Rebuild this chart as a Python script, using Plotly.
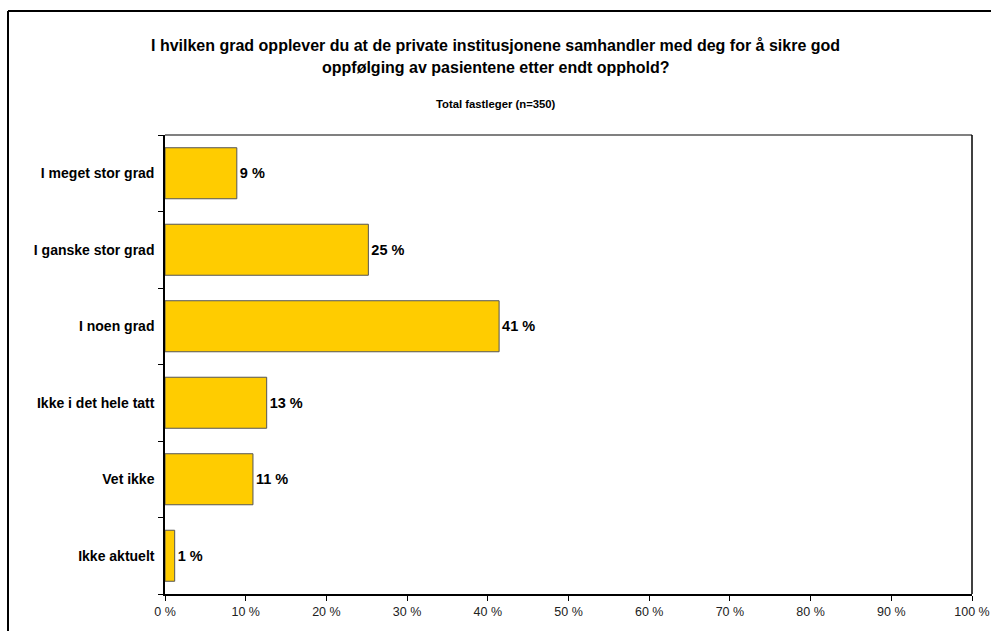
import plotly.graph_objects as go

categories = ["I meget stor grad", "I ganske stor grad", "I noen grad",
              "Ikke i det hele tatt", "Vet ikke", "Ikke aktuelt"]
values = [8.9, 25.2, 41.4, 12.6, 10.9, 1.2]
x_ticks = [0, 10, 20, 30, 40, 50, 60, 70, 80, 90, 100]
x_tick_labels = [f"{t} %" for t in x_ticks]
title_line1 = "I hvilken grad opplever du at de private institusjonene samhandler med deg for å sikre god"
title_line2 = "oppfølging av pasientene etter endt opphold?"
subtitle = "Total fastleger (n=350)"

W, H = 991, 631
L, R, T, B = 165, 19, 135, 37
pw, ph = W - L - R, H - T - B

def px(x):
    return (x - L) / pw

def py(y):
    return (H - B - y) / ph

fig = go.Figure(go.Bar(
    y=categories, x=values, orientation="h",
    marker=dict(color="#FFCC00", line=dict(color="#555555", width=1)),
    width=0.667,
    text=[f"{round(v)} %" for v in values], textposition="outside",
    textfont=dict(family="Liberation Sans, Arial", size=14.5, color="#000000", weight="bold"),
    cliponaxis=False,
))

fig.update_layout(
    width=W, height=H,
    margin=dict(l=L, r=R, t=T, b=B, autoexpand=False),
    paper_bgcolor="white", plot_bgcolor="white",
    showlegend=False,
    font=dict(family="Liberation Sans, Arial", color="#000000"),
    xaxis=dict(range=[0, 100], tickvals=x_ticks, ticktext=x_tick_labels,
               ticks="outside", ticklen=5, tickcolor="#000000", automargin=False,
               showgrid=False, zeroline=False, showline=True,
               linecolor="#000000", linewidth=1.5,
               tickfont=dict(size=12.5, color="#222222")),
    yaxis=dict(categoryorder="array", categoryarray=categories[::-1],
               autorange=False, range=[-0.5, 5.5], automargin=False,
               ticks="outside", ticklen=5, tickcolor="#000000", tickson="boundaries",
               showgrid=False, zeroline=False, showline=True,
               linecolor="#000000", linewidth=1.5, ticklabelstandoff=6,
               tickfont=dict(size=14, color="#000000", weight="bold")),
    annotations=[
        dict(text=f"<b>{title_line1}</b>", x=px(495.5), y=py(45), xref="paper", yref="paper",
             showarrow=False, font=dict(size=16), xanchor="center", yanchor="middle"),
        dict(text=f"<b>{title_line2}</b>", x=px(495.5), y=py(67), xref="paper", yref="paper",
             showarrow=False, font=dict(size=16), xanchor="center", yanchor="middle"),
        dict(text=f"<b>{subtitle}</b>", x=px(495.5), y=py(104), xref="paper", yref="paper",
             showarrow=False, font=dict(size=11.3), xanchor="center", yanchor="middle"),
    ],
    shapes=[
        dict(type="line", xref="paper", yref="paper", x0=px(8), x1=px(991), y0=py(11), y1=py(11),
             line=dict(color="#000000", width=2)),
        dict(type="line", xref="paper", yref="paper", x0=px(8), x1=px(8), y0=py(11), y1=py(631),
             line=dict(color="#000000", width=2)),
        dict(type="line", xref="paper", yref="paper", x0=0, x1=1, y0=1, y1=1,
             line=dict(color="#808080", width=2)),
        dict(type="line", xref="paper", yref="paper", x0=1, x1=1, y0=0, y1=1,
             line=dict(color="#000000", width=1.5)),
    ],
)

fig.write_html("out.html", config={"displayModeBar": False},
               post_script="document.body.style.margin='0';document.body.style.padding='0';document.body.style.overflow='hidden';")
